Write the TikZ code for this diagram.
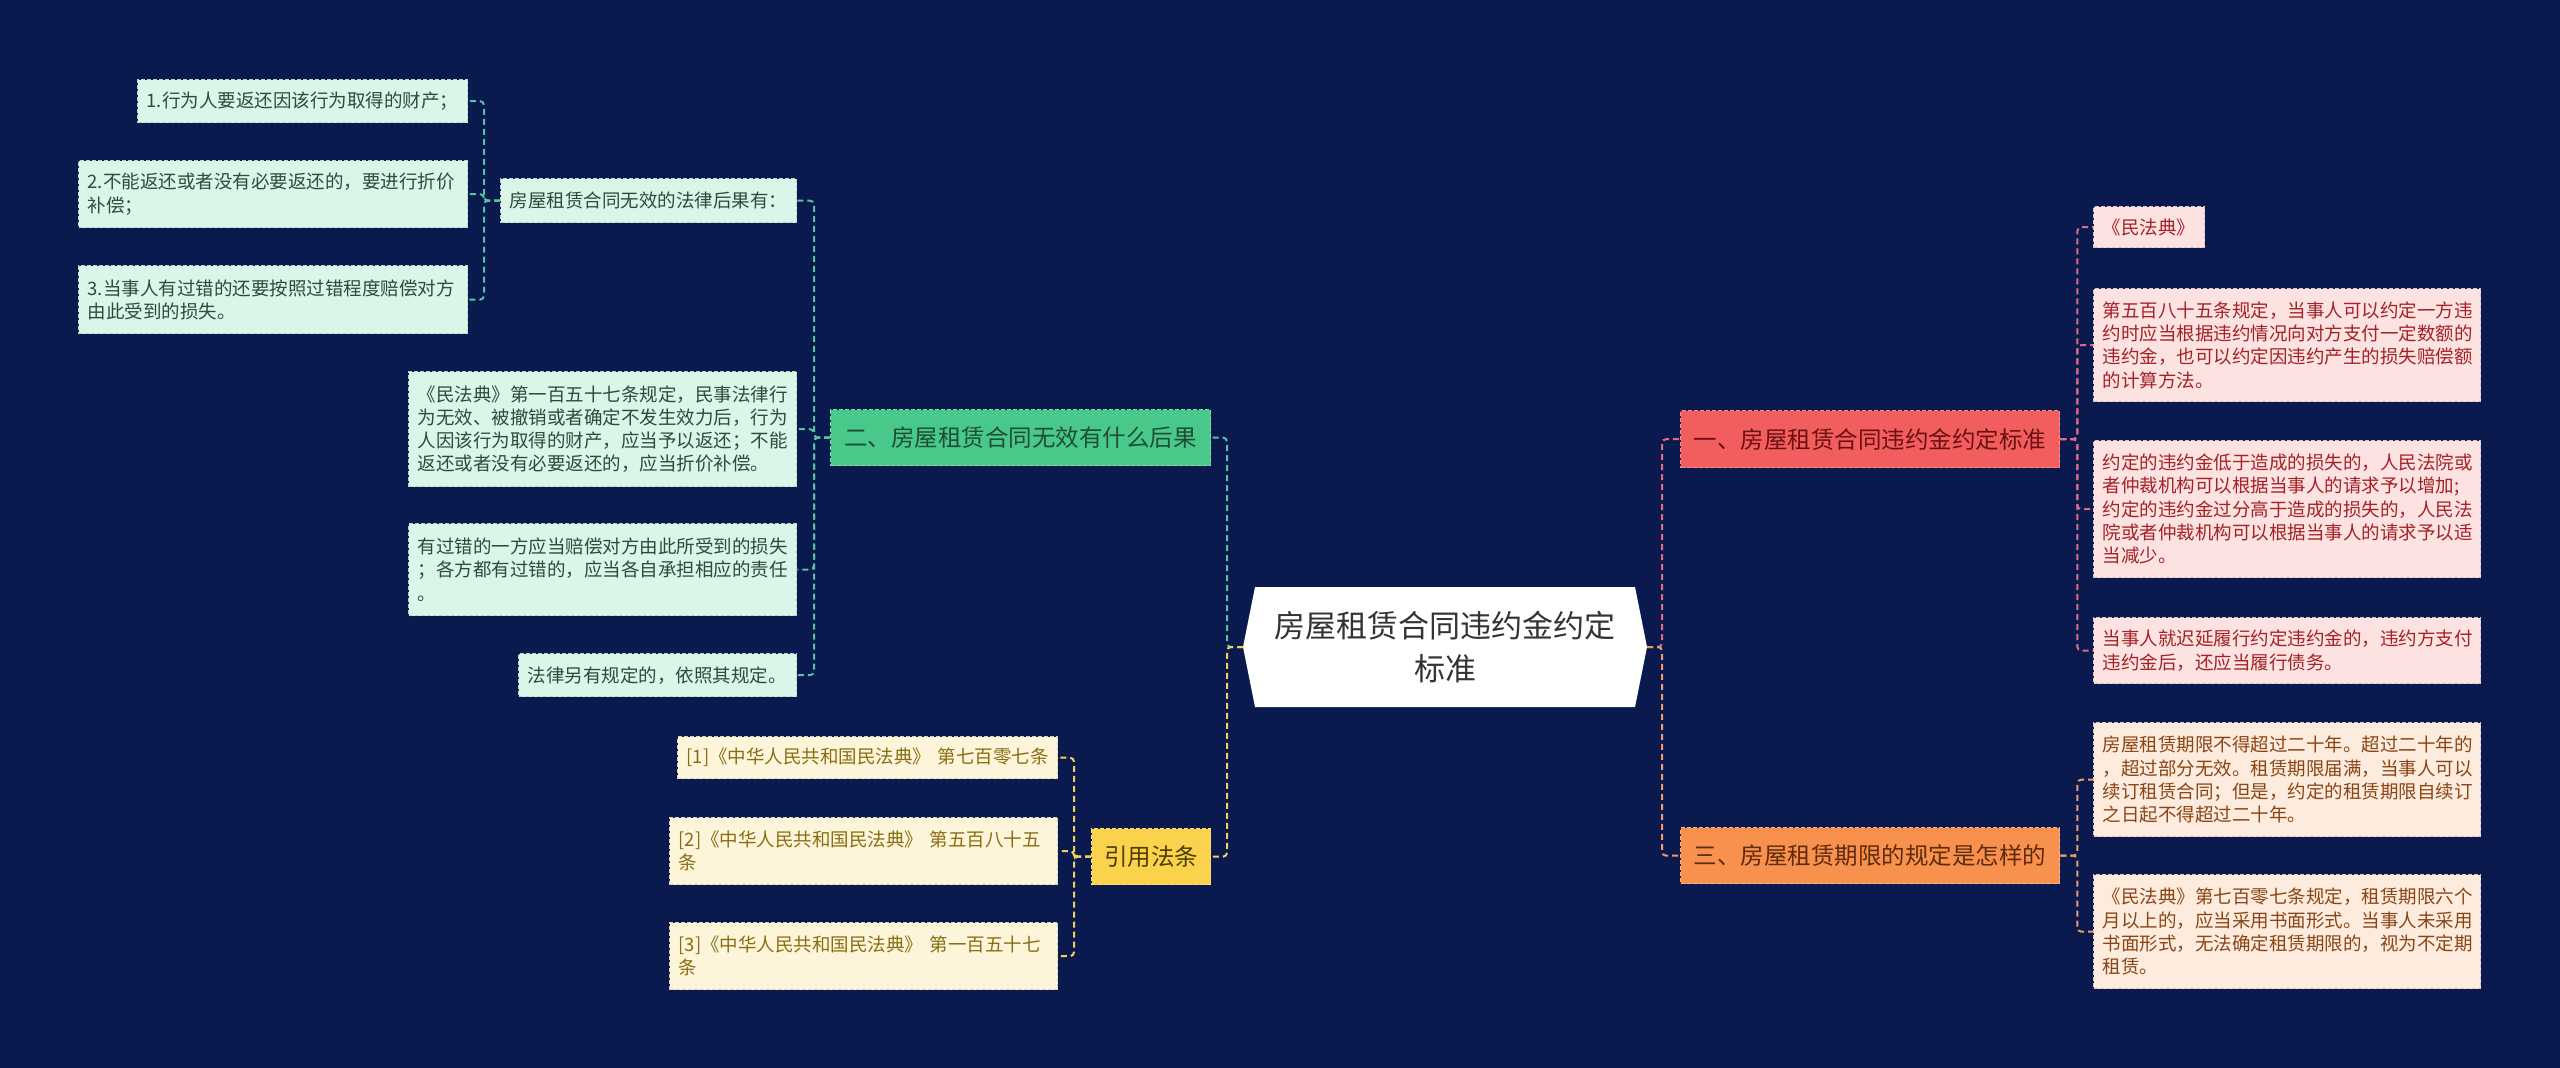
\documentclass[tikz,border=0pt]{standalone}
\usepackage{fontspec}
\setmainfont{Noto Sans CJK SC}
\definecolor{bgc}{HTML}{0A1A4F}
\definecolor{lnG}{HTML}{56C3A0}
\definecolor{lnR}{HTML}{E06C84}
\definecolor{lnO}{HTML}{EE9A6A}
\definecolor{lnY}{HTML}{F2CF5B}
\definecolor{fR}{HTML}{F25D5D}\definecolor{tR}{HTML}{6B1111}
\definecolor{fG}{HTML}{48C98A}\definecolor{tG}{HTML}{1F4D36}
\definecolor{fO}{HTML}{F8914D}\definecolor{tO}{HTML}{5E2B0C}
\definecolor{fY}{HTML}{FBD24B}\definecolor{tY}{HTML}{4D3D05}
\definecolor{lR}{HTML}{FDE2E2}\definecolor{ltR}{HTML}{A32225}
\definecolor{lG}{HTML}{DCF5E9}\definecolor{ltG}{HTML}{2D4A3D}
\definecolor{lO}{HTML}{FDEBDE}\definecolor{ltO}{HTML}{8A4515}
\definecolor{lY}{HTML}{FDF5DA}\definecolor{ltY}{HTML}{8A6D12}
\newcommand\leaffont{\fontsize{18.5}{23.3}\selectfont}
\newcommand\brfont{\fontsize{23.5}{28}\selectfont}
\tikzset{
  boxbase/.style={anchor=north west, inner ysep=0pt, line width=1.3pt, dash pattern=on 4pt off 2pt},
  leaf/.style={boxbase, inner xsep=9pt, align=left, font=\leaffont},
  leafR/.style={leaf, fill=lR, draw=lR!70!gray, text=ltR},
  leafG/.style={leaf, fill=lG, draw=lG!70!gray, text=ltG},
  leafO/.style={leaf, fill=lO, draw=lO!70!gray, text=ltO},
  leafY/.style={leaf, fill=lY, draw=lY!70!gray, text=ltY},
  br/.style={boxbase, inner xsep=0pt, align=center, font=\brfont},
  brR/.style={br, fill=fR, draw=fR!70!white, text=tR},
  brG/.style={br, fill=fG, draw=fG!70!white, text=tG},
  brO/.style={br, fill=fO, draw=fO!70!white, text=tO},
  brY/.style={br, fill=fY, draw=fY!70!white, text=tY},
  conn/.style={line width=2pt, dash pattern=on 6pt off 4pt, rounded corners=4pt},
}
\begin{document}
\begin{tikzpicture}[x=1pt,y=-1pt]
\fill[bgc] (0,0) rectangle (2560,1068);
\useasboundingbox (0,0) rectangle (2560,1068);

% root
\fill[white] (1243,647) -- (1255,587) -- (1635,587) -- (1647,647) -- (1635,707) -- (1255,707) -- cycle;
\node[align=center, text=black!80, font=\fontsize{31}{43}\selectfont] (root) at (1445,647) {房屋租赁合同违约金约定\\标准};
\coordinate (rootW) at (1243,647);
\coordinate (rootE) at (1647,647);

% branches
\node[brR, text width=379pt, minimum height=57pt] (b1) at (1680,410) {一、房屋租赁合同违约金约定标准};
\node[brO, text width=379pt, minimum height=56pt] (b3) at (1680,827) {三、房屋租赁期限的规定是怎样的};
\node[brG, text width=380pt, minimum height=56pt] (b2) at (830,409) {二、房屋租赁合同无效有什么后果};
\node[brY, text width=119pt, minimum height=56pt] (b4) at (1091,828) {引用法条};

% right leaves
\node[leafR, text width=93pt, minimum height=41pt] (r1) at (2093,206) {《民法典》};
\node[leafR, text width=369pt, minimum height=113pt] (r2) at (2093,288) {第五百八十五条规定，当事人可以约定一方违\\约时应当根据违约情况向对方支付一定数额的\\违约金，也可以约定因违约产生的损失赔偿额\\的计算方法。};
\node[leafR, text width=369pt, minimum height=137pt] (r3) at (2093,440) {约定的违约金低于造成的损失的，人民法院或\\者仲裁机构可以根据当事人的请求予以增加;\\约定的违约金过分高于造成的损失的，人民法\\院或者仲裁机构可以根据当事人的请求予以适\\当减少。};
\node[leafR, text width=369pt, minimum height=66pt] (r4) at (2093,617) {当事人就迟延履行约定违约金的，违约方支付\\违约金后，还应当履行债务。};
\node[leafO, text width=369pt, minimum height=114pt] (r5) at (2093,722) {房屋租赁期限不得超过二十年。超过二十年的\\，超过部分无效。租赁期限届满，当事人可以\\续订租赁合同；但是，约定的租赁期限自续订\\之日起不得超过二十年。};
\node[leafO, text width=369pt, minimum height=114pt] (r6) at (2093,874) {《民法典》第七百零七条规定，租赁期限六个\\月以上的，应当采用书面形式。当事人未采用\\书面形式，无法确定租赁期限的，视为不定期\\租赁。};

% left leaves of b2
\node[leafG, text width=278pt, minimum height=44pt] (l1) at (500,178) {房屋租赁合同无效的法律后果有：};
\node[leafG, text width=370pt, minimum height=115pt] (l2) at (408,371) {《民法典》第一百五十七条规定，民事法律行\\为无效、被撤销或者确定不发生效力后，行为\\人因该行为取得的财产，应当予以返还；不能\\返还或者没有必要返还的，应当折价补偿。};
\node[leafG, text width=370pt, minimum height=92pt] (l3) at (408,523) {有过错的一方应当赔偿对方由此所受到的损失\\；各方都有过错的，应当各自承担相应的责任\\。};
\node[leafG, text width=260pt, minimum height=43pt] (l4) at (518,653) {法律另有规定的，依照其规定。};

% leaves of l1
\node[leafG, text width=312pt, minimum height=43pt] (m1) at (137,79) {1.行为人要返还因该行为取得的财产；};
\node[leafG, text width=371pt, minimum height=67pt] (m2) at (78,160) {2.不能返还或者没有必要返还的，要进行折价\\补偿；};
\node[leafG, text width=371pt, minimum height=68pt] (m3) at (78,265) {3.当事人有过错的还要按照过错程度赔偿对方\\由此受到的损失。};

% leaves of b4
\node[leafY, text width=362pt, minimum height=42pt] (c1) at (677,736) {[1]《中华人民共和国民法典》 第七百零七条};
\node[leafY, text width=370pt, minimum height=67pt] (c2) at (669,817) {[2]《中华人民共和国民法典》 第五百八十五\\条};
\node[leafY, text width=370pt, minimum height=67pt] (c3) at (669,922) {[3]《中华人民共和国民法典》 第一百五十七\\条};

% connectors root
\draw[conn, lnG] (rootW) -- ++(-16,0) |- (b2.east);
\draw[conn, lnY] (rootW) -- ++(-16,0) |- (b4.east);
\draw[conn, lnR] (rootE) -- ++(15,0) |- (b1.west);
\draw[conn, lnO] (rootE) -- ++(15,0) |- (b3.west);

% children
\foreach \c in {r1,r2,r3,r4}{\draw[conn, lnR] (b1.east) -- ++(17,0) |- (\c.west);}
\foreach \c in {r5,r6}{\draw[conn, lnO] (b3.east) -- ++(17,0) |- (\c.west);}
\foreach \c in {l1,l2,l3,l4}{\draw[conn, lnG] (b2.west) -- ++(-16,0) |- (\c.east);}
\foreach \c in {m1,m2,m3}{\draw[conn, lnG] (l1.west) -- ++(-16,0) |- (\c.east);}
\foreach \c in {c1,c2,c3}{\draw[conn, lnY] (b4.west) -- ++(-17,0) |- (\c.east);}
\end{tikzpicture}
\end{document}
